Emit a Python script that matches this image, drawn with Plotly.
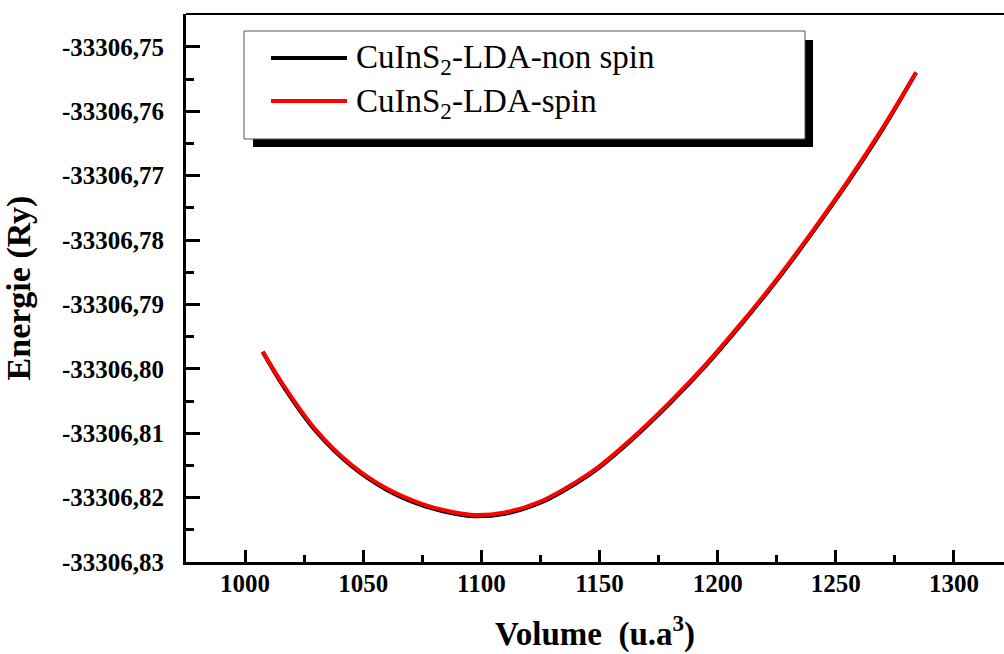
import plotly.graph_objects as go

# ---- data ----
volume = [1007.5, 1016, 1030, 1045, 1060, 1075, 1090, 1097, 1110, 1125, 1140,
          1150, 1165, 1180, 1195, 1210, 1225, 1240, 1255, 1270, 1284]
energy_spin = [-33306.7973, -33306.8024, -33306.8095, -33306.8149, -33306.8186,
               -33306.8210, -33306.8224, -33306.8227, -33306.8223, -33306.8206,
               -33306.8176, -33306.8151, -33306.8104, -33306.8051, -33306.7993,
               -33306.7929, -33306.7861, -33306.7787, -33306.7709, -33306.7625,
               -33306.7540]
energy_nonspin = [-33306.7974, -33306.8026, -33306.8097, -33306.8151, -33306.8188,
                  -33306.8212, -33306.8226, -33306.8229, -33306.8225, -33306.8208,
                  -33306.8178, -33306.8153, -33306.8106, -33306.8053, -33306.7995,
                  -33306.7931, -33306.7863, -33306.7789, -33306.7711, -33306.7627,
                  -33306.7540]
series_names = ["CuInS<sub>2</sub>-LDA-non spin", "CuInS<sub>2</sub>-LDA-spin"]
series_colors = ["#000000", "#ff0000"]

x_ticks = [1000, 1050, 1100, 1150, 1200, 1250, 1300]
x_ticklabels = ["1000", "1050", "1100", "1150", "1200", "1250", "1300"]
y_ticks = [-33306.83, -33306.82, -33306.81, -33306.80, -33306.79,
           -33306.78, -33306.77, -33306.76, -33306.75]
y_ticklabels = ["-33306,83", "-33306,82", "-33306,81", "-33306,80", "-33306,79",
                "-33306,78", "-33306,77", "-33306,76", "-33306,75"]

# ---- layout geometry (pixels) ----
W, H = 1004, 654
L, R, T, B = 186, 0, 14, 92
PW, PH = W - L - R, H - T - B


def px(x):
    return (x - L) / PW


def py(y):
    return (H - B - y) / PH


FONT = "Liberation Serif"

fig = go.Figure()
fig.add_trace(go.Scatter(x=volume, y=energy_nonspin, mode="lines",
                         line=dict(color=series_colors[0], width=4, shape="spline", smoothing=1),
                         name=series_names[0], showlegend=False))
fig.add_trace(go.Scatter(x=volume, y=energy_spin, mode="lines",
                         line=dict(color=series_colors[1], width=4, shape="spline", smoothing=1),
                         name=series_names[1], showlegend=False))

shapes = [
    dict(type="line", xref="paper", yref="paper", x0=0, x1=1, y0=1, y1=1,
         line=dict(color="black", width=2)),
    dict(type="rect", xref="paper", yref="paper", x0=px(253), x1=px(813),
         y0=py(147), y1=py(40), fillcolor="black", line=dict(width=0)),
    dict(type="rect", xref="paper", yref="paper", x0=px(244), x1=px(805),
         y0=py(139), y1=py(31), fillcolor="white",
         line=dict(color="#555555", width=1)),
]
legend_rows = [58, 101]
annotations = []
for name, color, yy in zip(series_names, series_colors, legend_rows):
    shapes.append(dict(type="line", xref="paper", yref="paper", x0=px(271), x1=px(347),
                       y0=py(yy), y1=py(yy), line=dict(color=color, width=4)))
    annotations.append(dict(xref="paper", yref="paper", x=px(354), y=py(yy + 2),
                            xanchor="left", yanchor="middle", showarrow=False,
                            text=name, font=dict(family=FONT, size=33, color="black")))

fig.update_layout(
    width=W, height=H,
    margin=dict(l=L, r=R, t=T, b=B, pad=0),
    paper_bgcolor="white", plot_bgcolor="white",
    shapes=shapes, annotations=annotations,
    showlegend=False,
)
fig.update_xaxes(
    range=[975, 1321.2], showgrid=False, zeroline=False,
    showline=True, linecolor="black", linewidth=3,
    ticks="inside", ticklen=12, tickwidth=3, tickcolor="black",
    tickvals=x_ticks, ticktext=x_ticklabels, ticklabelstandoff=-3,
    tickfont=dict(family=FONT, size=25, color="black", weight="bold"),
    minor=dict(tickvals=[1025, 1075, 1125, 1175, 1225, 1275], ticks="inside",
               ticklen=7, tickwidth=3, tickcolor="black"),
    title=dict(text="Volume\u00a0\u00a0(u.a<sup>3</sup>)", standoff=26,
               font=dict(family=FONT, size=33, color="black", weight="bold")),
)
fig.update_yaxes(
    range=[-33306.83, -33306.7449], showgrid=False, zeroline=False,
    showline=True, linecolor="black", linewidth=3,
    ticks="inside", ticklen=14, tickwidth=3, tickcolor="black",
    tickvals=y_ticks, ticktext=y_ticklabels, ticklabelstandoff=14,
    tickfont=dict(family=FONT, size=25, color="black", weight="bold"),
    minor=dict(tickvals=[-33306.825, -33306.815, -33306.805, -33306.795,
                         -33306.785, -33306.775, -33306.765, -33306.755],
               ticks="inside", ticklen=8, tickwidth=3, tickcolor="black"),
    title=dict(text="Energie (Ry)", standoff=24,
               font=dict(family=FONT, size=34, color="black", weight="bold")),
)

fig.write_html("out.html")
